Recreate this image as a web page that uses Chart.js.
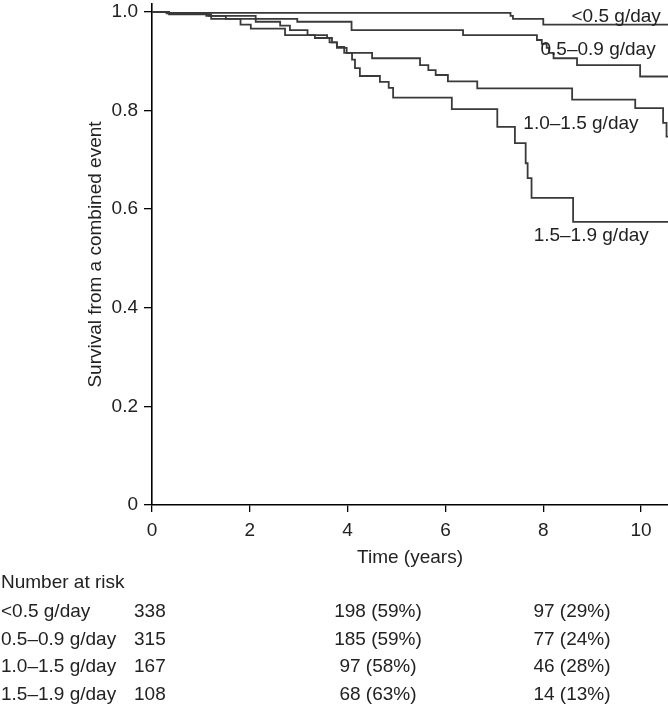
<!DOCTYPE html>
<html>
<head>
<meta charset="utf-8">
<script src="https://cdn.jsdelivr.net/npm/chart.js@4.4.0/dist/chart.umd.min.js"></script>
<style>
  html, body { margin: 0; padding: 0; background: #fff; }
  #wrap { width: 668px; height: 711px; position: relative; }
</style>
</head>
<body>
<div id="wrap"><canvas id="kmChart"></canvas></div>
<script>
// groups (proteinuria)
const groups = ['<0.5 g/day', '0.5\u20130.9 g/day', '1.0\u20131.5 g/day', '1.5\u20131.9 g/day'];

// Kaplan-Meier steps: time (years) and survival after each step
const timesLow = [0, 0.3, 7.33, 7.38, 8.0, 10.55];
const survLow = [1, 0.998, 0.992, 0.986, 0.974, 0.974];

const timesMid = [0, 0.35, 1.16, 2.12, 2.97, 4.08, 6.36, 7.87, 7.97, 8.07, 8.12, 8.21, 8.69, 9.98, 10.55];
const survMid = [1, 0.997, 0.992, 0.986, 0.98, 0.963, 0.953, 0.943, 0.935, 0.927, 0.917, 0.906, 0.892, 0.869, 0.869];

const timesHigh = [0, 0.3, 1.11, 1.51, 2.12, 2.62, 2.82, 3.18, 3.58, 3.68, 3.78, 3.93, 4.5, 5.48, 5.65, 5.8, 6.05, 6.65, 8.59, 9.88, 10.45, 10.52, 10.55];
const survHigh = [1, 0.997, 0.992, 0.986, 0.98, 0.972, 0.963, 0.953, 0.947, 0.938, 0.929, 0.917, 0.906, 0.892, 0.882, 0.872, 0.859, 0.845, 0.822, 0.805, 0.775, 0.747, 0.747];

const timesTop = [0, 0.35, 1.21, 1.81, 2.02, 2.72, 3.33, 3.63, 3.78, 3.98, 4.09, 4.15, 4.25, 4.66, 4.84, 4.93, 6.13, 7.06, 7.42, 7.64, 7.68, 7.76, 8.61, 10.55];
const survTop = [1, 0.995, 0.986, 0.974, 0.966, 0.953, 0.947, 0.938, 0.927, 0.917, 0.903, 0.886, 0.87, 0.858, 0.846, 0.826, 0.803, 0.767, 0.734, 0.693, 0.663, 0.623, 0.574, 0.574];

// number at risk table
const riskStart = [338, 315, 167, 108];
const riskMid = [198, 185, 97, 68];
const pctMid = [59, 59, 58, 63];
const riskLate = [97, 77, 46, 14];
const pctLate = [29, 24, 28, 13];

const xTicks = [0, 2, 4, 6, 8, 10];
const yTicks = [0, 0.2, 0.4, 0.6, 0.8, 1.0];

const FONT = '"Liberation Sans", Arial, Helvetica, sans-serif';
const FSIZE = 19;
const TEXT = '#222';
const LINE = '#3a3a3a';

const toPoints = (t, s) => t.map((x, i) => ({ x: x, y: s[i] }));
const curves = [toPoints(timesLow, survLow), toPoints(timesMid, survMid), toPoints(timesHigh, survHigh), toPoints(timesTop, survTop)];

// where each curve name sits (data units)
const curveLabelAt = [
    { x: 9.49, y: 0.990 },
    { x: 9.12, y: 0.923 },
    { x: 8.77, y: 0.773 },
    { x: 8.98, y: 0.546 },
];

const labelsPlugin = {
    id: 'curveLabels',
    afterDatasetsDraw(chart) {
        const { ctx, scales } = chart;
        ctx.save();
        ctx.font = FSIZE + 'px ' + FONT;
        ctx.fillStyle = TEXT;
        ctx.textAlign = 'center';
        ctx.textBaseline = 'middle';
        groups.forEach((g, i) => {
            ctx.fillText(g, scales.x.getPixelForValue(curveLabelAt[i].x), scales.y.getPixelForValue(curveLabelAt[i].y));
        });
        ctx.restore();
    }
};

// the "Number at risk" table under the axis
const riskTablePlugin = {
    id: 'riskTable',
    afterDraw(chart) {
        const ctx = chart.ctx;
        ctx.save();
        ctx.font = FSIZE + 'px ' + FONT;
        ctx.fillStyle = TEXT;
        ctx.textBaseline = 'middle';
        ctx.textAlign = 'left';
        ctx.fillText('Number at risk', 1, 583);
        const rowY = [612, 640, 667, 695];
        groups.forEach((g, i) => {
            ctx.textAlign = 'left';
            ctx.fillText(g, 1, rowY[i]);
            ctx.fillText(String(riskStart[i]), 134, rowY[i]);
            ctx.textAlign = 'center';
            ctx.fillText(riskMid[i] + ' (' + pctMid[i] + '%)', 378, rowY[i]);
            ctx.fillText(riskLate[i] + ' (' + pctLate[i] + '%)', 572, rowY[i]);
        });
        ctx.restore();
    }
};

const ctx = document.getElementById('kmChart').getContext('2d');
new Chart(ctx, {
    type: 'line',
    data: {
        datasets: curves.map((pts, i) => ({
            label: groups[i],
            data: pts,
            stepped: true,
            borderColor: LINE,
            borderWidth: 1.8,
            pointRadius: 0,
            fill: false,
        })),
    },
    options: {
        responsive: true,
        maintainAspectRatio: false,
        animation: false,
        layout: { padding: { left: 80, right: 0, top: 4, bottom: 142 } },
        plugins: { legend: { display: false }, tooltip: { enabled: false } },
        scales: {
            x: {
                type: 'linear',
                min: 0,
                max: 10.55,
                afterFit: (s) => { s.height = 64; },
                afterBuildTicks: (s) => { s.ticks = xTicks.map(v => ({ value: v })); },
                ticks: { color: TEXT, font: { family: FONT, size: FSIZE }, padding: 7 },
                grid: { drawOnChartArea: false, drawTicks: true, tickLength: 7, color: '#000', lineWidth: 1.3 },
                border: { display: true, color: '#000', width: 1.6 },
                title: { display: true, text: 'Time (years)', color: TEXT, font: { family: FONT, size: FSIZE }, padding: { top: 0, bottom: 0 } },
            },
            y: {
                min: 0,
                max: 1.016,
                // fixed width, and no extra room kept for the top label
                afterFit: (s) => { s.width = 72; s.paddingTop = 0; s.paddingBottom = 0; },
                afterBuildTicks: (s) => { s.ticks = yTicks.map(v => ({ value: v })); },
                ticks: {
                    color: TEXT,
                    font: { family: FONT, size: FSIZE },
                    padding: 6,
                    callback: (v) => (v === 0 ? '0' : v.toFixed(1)),
                },
                grid: { drawOnChartArea: false, drawTicks: true, tickLength: 8, color: '#000', lineWidth: 1.3 },
                border: { display: true, color: '#000', width: 1.6 },
                title: { display: true, text: 'Survival from a combined event', color: TEXT, font: { family: FONT, size: FSIZE }, padding: { top: 4, bottom: 4 } },
            },
        },
    },
    plugins: [labelsPlugin, riskTablePlugin],
});
</script>
</body>
</html>
